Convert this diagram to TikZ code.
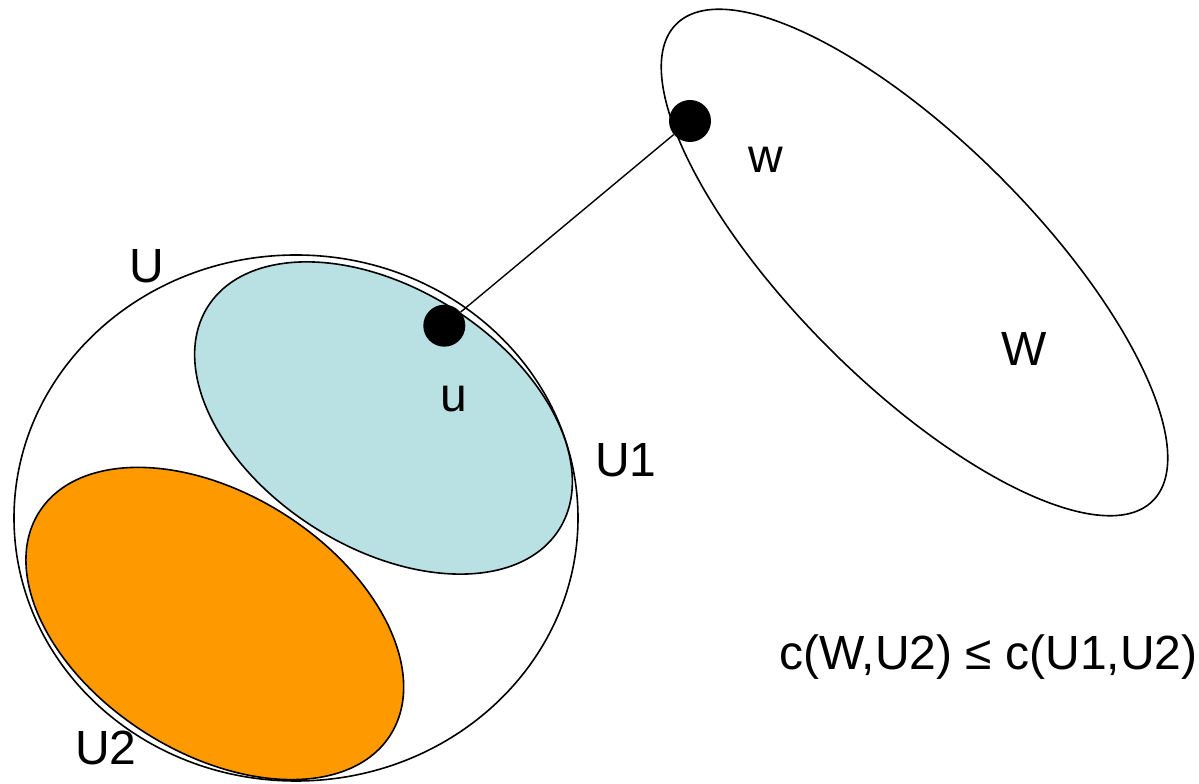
\documentclass[tikz,border=0pt]{standalone}
\usepackage{fontspec}
\setmainfont{Liberation Sans}
\definecolor{ublue}{RGB}{185,224,226}
\definecolor{uorange}{RGB}{255,153,0}
\begin{document}
\begin{tikzpicture}[x=1pt,y=1pt,
  setline/.style={line width=1.6pt},
  lbl/.style={inner sep=0pt, anchor=base, font=\fontsize{48}{58}\selectfont},
  dot/.style={circle, fill=black, minimum size=42pt, inner sep=0pt},
  edge/.style={line width=1.4pt}]
\useasboundingbox (0,0) rectangle (1199,784);
% W
\draw[setline, rotate around={-45:(914.5,521.5)}] (914.5,521.5) ellipse [x radius=337, y radius=121];
% U
\draw[setline] (296,266) ellipse [x radius=282, y radius=263];
% U1
\draw[setline, fill=ublue, rotate around={-32.4:(383.5,366)}] (383.5,366) ellipse [x radius=208, y radius=129.5];
% U2
\draw[setline, fill=uorange, rotate around={-32.4:(214.8,160.5)}] (214.8,160.5) ellipse [x radius=208, y radius=129.5];
% vertices
\node[dot] (u) at (444.3,458.3) {};
\node[dot] (w) at (690,663) {};
\draw[edge] (u) -- (w);
% labels
\node[lbl] (lU) at (146.7,501) {U};
\node[lbl] (lu) at (454,372.3) {u};
\node[lbl] (lU1) at (625.7,307.3) {U1};
\node[lbl] (lU2) at (105.8,19) {U2};
\node[lbl] (lw) at (766,611.6) {w};
\node[lbl] (lW) at (1024,418) {W};
\node[lbl] (lc) at (988.4,114) {c(W,U2) ≤ c(U1,U2)};
\end{tikzpicture}
\end{document}
